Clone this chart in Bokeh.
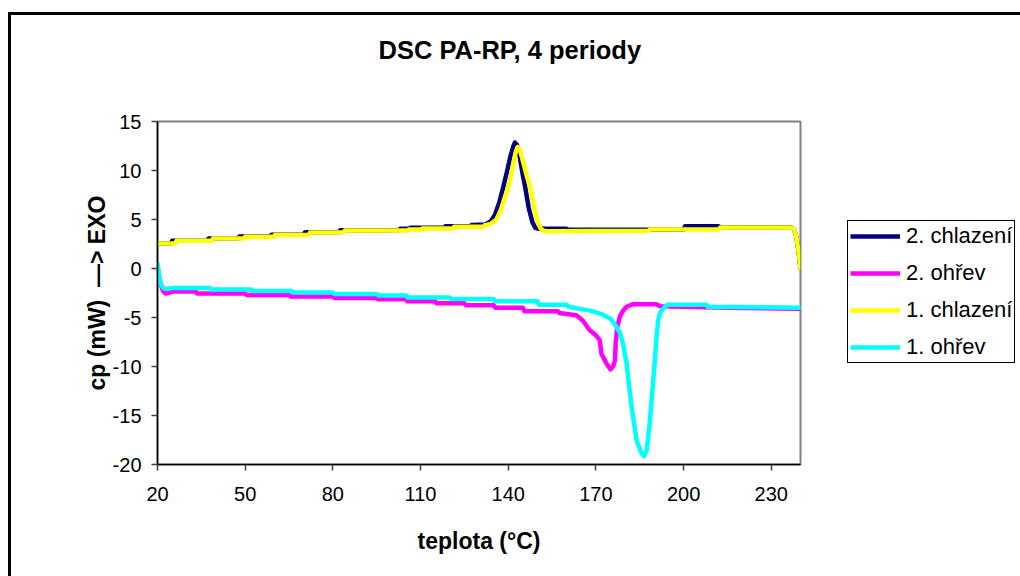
from bokeh.plotting import figure
from bokeh.layouts import row
from bokeh.models import Range1d, FixedTicker, Legend, LegendItem
from bokeh.embed import file_html
from bokeh.resources import INLINE

# ---------------- data ----------------
title_text = "DSC PA-RP, 4 periody"
x_label = "teplota (°C)"
y_label = "cp (mW)\u00a0 \u2014> EXO"

x_ticks = [20, 50, 80, 110, 140, 170, 200, 230]
y_ticks = [-20, -15, -10, -5, 0, 5, 10, 15]

series_names = ["2. chlazení", "2. ohřev", "1. chlazení", "1. ohřev"]
series_colors = ["#000080", "#FF00FF", "#FFFF00", "#00FFFF"]

# 2. chlazení (navy)
t_cool2 = [20, 24.5, 25, 37, 37.5, 47.5, 48, 58.5, 59, 70, 70.5, 82, 82.5, 102.5, 103, 106, 106.5,
           118, 118.5, 127, 127.5, 132, 134, 135.5, 137, 138.3, 139.5, 140.8, 141.8, 142.3, 143,
           144, 145, 145.8, 147, 148.3, 149.3, 150.5, 160, 160.5, 200, 200.5, 212, 212.5, 236.8,
           237.8, 238.6, 239.3, 240]
cp_cool2 = [2.55, 2.55, 2.82, 2.82, 3.06, 3.06, 3.27, 3.27, 3.45, 3.45, 3.7, 3.7, 3.9, 3.9, 4.05, 4.05, 4.15,
            4.15, 4.3, 4.3, 4.45, 4.5, 4.8, 5.5, 6.8, 8.3, 9.8, 11.5, 12.5, 12.85, 12.6,
            11.3, 9.5, 8.3, 6.2, 4.7, 4.15, 4.05, 4.05, 3.95, 3.95, 4.32, 4.32, 4.2, 4.2,
            4.0, 3.2, 1.8, 0.0]

# 2. ohřev (magenta)
t_heat2 = [20, 20.5, 21.3, 22, 22.8, 24, 25, 33, 33.6, 50, 50.5, 65, 65.5, 80, 80.5, 95, 95.5, 105, 105.5,
           115, 115.5, 125, 125.5, 135, 135.5, 145, 145.5, 157, 157.5, 163.3, 165.5, 167.9, 170, 171.3,
           171.9, 173.6, 175, 176, 176.5, 176.8, 177.3, 178.2, 179.3, 180.5, 182.7, 190.7, 192, 215, 240]
cp_heat2 = [0.3, -0.8, -1.8, -2.35, -2.55, -2.45, -2.35, -2.35, -2.55, -2.55, -2.7, -2.7, -2.85, -2.85, -3.0,
            -3.0, -3.15, -3.15, -3.35, -3.35, -3.55, -3.55, -3.75, -3.75, -4.0, -4.0, -4.35, -4.35, -4.55,
            -4.77, -5.3, -6.3, -6.8, -7.3, -8.7, -9.7, -10.3, -9.9, -9.4, -7.5, -6.0, -4.9, -4.3, -3.9,
            -3.64, -3.64, -3.85, -4.0, -4.1]

# 1. chlazení (yellow)
t_cool1 = [20, 26, 26.5, 38.5, 39, 49.5, 50, 59.7, 60.2, 71.7, 72.2, 83.6, 84.1, 105.5, 106, 110, 110.5,
           121, 121.5, 131.4, 132, 134, 136, 137.5, 139, 140, 141.5, 142.5, 143.2, 144, 145, 146.3,
           147.5, 148.7, 150, 151, 152, 153, 188, 188.5, 212, 212.5, 236.8, 237.8, 238.6, 239.3, 240]
cp_cool1 = [2.55, 2.55, 2.82, 2.82, 3.06, 3.06, 3.23, 3.23, 3.43, 3.43, 3.67, 3.67, 3.88, 3.88, 3.98, 3.98,
            4.08, 4.08, 4.25, 4.25, 4.42, 4.55, 5.0, 6.0, 7.4, 8.3, 10.3, 11.8, 12.4, 12.1, 11.0, 9.5,
            8.3, 6.5, 4.8, 4.1, 3.85, 3.8, 3.85, 3.98, 3.98, 4.18, 4.18, 4.0, 3.2, 1.8, 0.0]

# 1. ohřev (cyan)
t_heat1 = [20, 20.4, 21, 22, 23, 25, 38, 38.5, 52, 52.5, 66, 66.5, 80, 80.5, 95, 95.5, 105, 105.5, 120,
           120.5, 135, 135.5, 150, 150.5, 160, 160.5, 168, 171.5, 174.9, 176.5, 178.3, 179.5, 180.5,
           181.3, 182.2, 183.9, 185.5, 186.5, 187.4, 188.4, 189.3, 190.1, 190.7, 191.3, 192, 193,
           194.4, 207.8, 208.3, 240]
cp_heat1 = [0.5, -0.5, -1.5, -2.0, -2.1, -2.0, -2.0, -2.15, -2.15, -2.3, -2.3, -2.45, -2.45, -2.6, -2.6,
            -2.75, -2.75, -2.95, -2.95, -3.1, -3.1, -3.35, -3.35, -3.7, -3.7, -3.9, -4.3, -4.6, -5.1,
            -5.7, -6.6, -8.0, -9.7, -11.8, -14.1, -17.5, -18.8, -19.15, -18.5, -15.8, -12.5, -9.7,
            -7.2, -5.3, -4.5, -4.1, -3.7, -3.7, -3.9, -4.0]

series_t = [t_cool2, t_heat2, t_cool1, t_heat1]
series_cp = [cp_cool2, cp_heat2, cp_cool1, cp_heat1]

FONT = "Liberation Sans"

# ---------------- main plot ----------------
p = figure(width=791, height=561, output_backend="svg", toolbar_location=None,
           x_range=Range1d(20, 240), y_range=Range1d(-20, 15),
           min_border_left=146, min_border_right=2, min_border_top=106, min_border_bottom=112)
p.background_fill_color = "white"
p.border_fill_color = "white"
p.xgrid.visible = False
p.ygrid.visible = False
p.outline_line_color = "#808080"
p.outline_line_width = 2

# title: a blank second line lifts the text within the top margin
p.title.text = title_text + "\n"
p.title.align = "left"
p.title.text_font = FONT
p.title.text_font_size = "25.5px"
p.title.text_font_style = "bold"
p.title.text_color = "black"
p.title.text_line_height = 1.8
p.title.offset = 221
p.title.standoff = 14

for ax in (p.xaxis[0], p.yaxis[0]):
    ax.axis_line_color = "black"
    ax.axis_line_width = 1.5
    ax.major_tick_in = 0
    ax.major_tick_out = 6
    ax.major_tick_line_color = "#404040"
    ax.major_tick_line_width = 1.5
    ax.minor_tick_in = 0
    ax.minor_tick_out = 0
    ax.major_label_text_font = FONT
    ax.major_label_text_font_size = "20px"
    ax.major_label_text_color = "black"
    ax.axis_label_text_font = FONT
    ax.axis_label_text_font_size = "23px"
    ax.axis_label_text_font_style = "bold"
    ax.axis_label_text_color = "black"

p.xaxis.ticker = FixedTicker(ticks=x_ticks)
p.xaxis.major_label_overrides = {t: str(t) for t in x_ticks}
p.xaxis.axis_label = x_label
p.xaxis.major_label_standoff = 16
p.xaxis.axis_label_standoff = 24

p.yaxis.ticker = FixedTicker(ticks=y_ticks)
p.yaxis.major_label_overrides = {t: str(t) for t in y_ticks}
p.yaxis.axis_label = y_label
p.yaxis.major_label_standoff = 10
p.yaxis.axis_label_standoff = 0

for name, color, ts, cps in zip(series_names, series_colors, series_t, series_cp):
    p.line(ts, cps, line_color=color, line_width=4.5, line_join="round", line_cap="round")

# ---------------- legend panel ----------------
lg = figure(width=218, height=561, output_backend="svg", toolbar_location=None,
            x_range=Range1d(0, 1), y_range=Range1d(0, 1),
            min_border_left=0, min_border_right=0, min_border_top=0, min_border_bottom=0)
lg.outline_line_color = None
lg.background_fill_color = "white"
lg.border_fill_color = "white"
lg.xgrid.visible = False
lg.ygrid.visible = False
lg.xaxis.visible = False
lg.yaxis.visible = False

nan = float("nan")
items = []
for name, color in zip(series_names, series_colors):
    r = lg.line([nan, nan], [nan, nan], line_color=color, line_width=4.5)
    items.append(LegendItem(label=name, renderers=[r]))

legend = Legend(items=items, location=(45, 101), orientation="vertical",
                border_line_color="black", border_line_width=1, border_line_alpha=1,
                background_fill_color="white", background_fill_alpha=1,
                label_text_font=FONT, label_text_font_size="22px", label_text_color="black",
                glyph_width=50, glyph_height=22, label_height=22, label_standoff=6,
                spacing=11, padding=2, margin=0)
lg.add_layout(legend)

layout = row(p, lg, spacing=0,
             styles={"margin-left": "8px", "margin-top": "12px",
                     "border-left": "3px solid black", "border-top": "3px solid black"})

open("out.html", "w").write(file_html(layout, INLINE))
